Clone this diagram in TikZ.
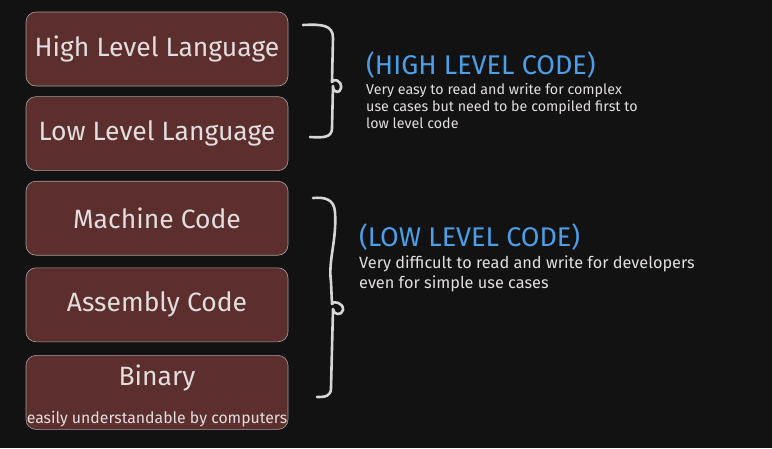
\documentclass[tikz,border=0pt]{standalone}
\usepackage{fontspec}
\setmainfont{Fira Sans}
\usetikzlibrary{positioning}
\definecolor{bgdark}{HTML}{121212}
\definecolor{boxfill}{HTML}{5C2E2E}
\definecolor{boxline}{HTML}{A89E9E}
\definecolor{labeltext}{HTML}{E2DEDE}
\definecolor{headblue}{HTML}{4A9FE8}
\definecolor{bracegray}{HTML}{D6D6D6}

\begin{document}
\begin{tikzpicture}[
    x=1pt, y=-1pt,
    codebox/.style={
        rectangle, draw=boxline, fill=boxfill, line width=0.6pt,
        rounded corners=10pt, minimum width=262pt,
        minimum height=74pt, inner sep=0pt, text=labeltext,
        font=\fontsize{26.5}{30}\selectfont
    },
    boxlabel/.style={inner sep=0pt, text=labeltext, font=\fontsize{26.5}{30}\selectfont},
    smallnote/.style={inner sep=0pt, text=labeltext, font=\fontsize{15.8}{17}\selectfont},
    heading/.style={inner sep=0pt, text=headblue, font=\fontsize{27}{30}\selectfont},
    desc/.style={inner sep=0pt, text=labeltext, align=left},
    brace/.style={draw=bracegray, line width=2.6pt, line cap=round, line join=round}
]
\fill[bgdark] (0,0) rectangle (772,448);

\node[codebox] (hll) at (157,49) {High Level Language};
\node[codebox, below=10pt of hll] (lll) {Low Level Language};
\node[codebox, below=10pt of lll] (mc)  {Machine Code};
\node[codebox, below=12pt of mc]  (asm) {Assembly Code};
\node[codebox, below=13pt of asm] (bin) {};
\node[boxlabel] (bintitle) at ([yshift=-23pt]bin.north) {Binary};
\node[smallnote] (binnote) at ([yshift=11pt]bin.south) {easily understandable by computers};

\node[heading, anchor=west] (hlc) at (366,65) {(HIGH LEVEL CODE)};
\node[desc, below=5pt of hlc.south west, anchor=north west,
      font=\fontsize{14.3}{17}\selectfont] (hlcdesc)
     {Very easy to read and write for complex\\use cases but need to be compiled first to\\low level code};
\node[heading, anchor=west] (llc) at (359,237) {(LOW LEVEL CODE)};
\node[desc, below=5pt of llc.south west, anchor=north west,
      font=\fontsize{16.3}{20}\selectfont] (llcdesc)
     {Very difficult to read and write for developers\\even for simple use cases};

\draw[brace] (303,25) .. controls (322,24) and (333,25) .. (333,38) -- (332,82)
    .. controls (333,78) and (342,80) .. (341,88) .. controls (340,94) and (333,93) .. (333,86)
    -- (332,128) .. controls (332,137) and (325,138) .. (310,137);
\draw[brace] (313,198) .. controls (325,197) and (334,199) .. (335,212)
    .. controls (337,240) and (328,260) .. (331,282) -- (332,304)
    .. controls (333,300) and (344,303) .. (343,310) .. controls (342,316) and (333,315) .. (333,309)
    -- (331,388) .. controls (331,396) and (326,397) .. (317,397);
\end{tikzpicture}
\end{document}
